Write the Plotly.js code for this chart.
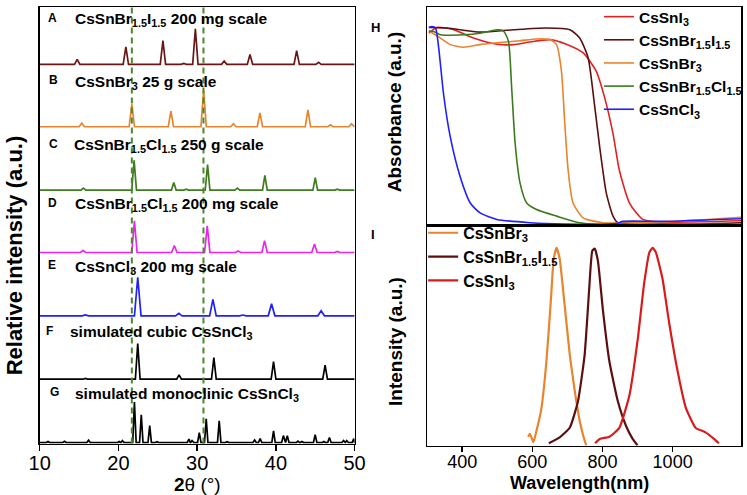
<!DOCTYPE html>
<html>
<head>
<meta charset="utf-8">
<script src="https://cdn.plot.ly/plotly-3.0.1.min.js"></script>
<style>html,body{margin:0;padding:0;background:#fff}#chart{width:747px;height:495px}</style>
</head>
<body>
<div id="chart"></div>
<script>
// ---------------- XRD data (2θ peak positions and peak heights) ----------------
const xrdLetters = ['A','B','C','D','E','F','G'];
const xrdLabels = [
  'CsSnBr<sub>1.5</sub>I<sub>1.5</sub> 200 mg scale',
  'CsSnBr<sub>3</sub> 25 g scale',
  'CsSnBr<sub>1.5</sub>Cl<sub>1.5</sub> 250 g scale',
  'CsSnBr<sub>1.5</sub>Cl<sub>1.5</sub> 200 mg scale',
  'CsSnCl<sub>3</sub> 200 mg scale',
  'simulated cubic CsSnCl<sub>3</sub>',
  'simulated monoclinic CsSnCl<sub>3</sub>'
];
const peaksA = [14.76, 20.94, 25.65, 28.3, 29.77, 33.43, 36.71, 42.64, 45.42];
const heightsA = [5, 17.7, 24, 1, 36, 3.3, 10, 14, 2];
const peaksB = [15.34, 21.7, 26.66, 30.82, 34.6, 37.97, 44.07, 46.93, 49.6];
const heightsB = [3.7, 23, 15.7, 37, 3, 14, 17, 2, 3];
const peaksC = [15.55, 21.99, 27.03, 28.6, 31.32, 35.1, 38.6, 45.0, 47.8];
const heightsC = [2, 30, 7.7, 1, 25.7, 2, 15, 12.7, 1];
const peaksD = [15.5, 22.03, 27.1, 31.28, 35.2, 38.56, 44.9, 47.8];
const heightsD = [2, 32, 7, 27, 1.5, 12, 8.5, 1];
const peaksE = [15.8, 22.45, 27.67, 32.0, 35.8, 39.45, 45.75];
const heightsE = [1, 39, 2.5, 16.7, 0.8, 12.3, 5];
const peaksF = [15.8, 22.45, 27.7, 32.12, 36.0, 39.7, 46.25];
const heightsF = [0.8, 36, 4.3, 21.7, 0.5, 17.7, 14.3];
const peaksG = [11.05, 13.15, 16.2, 20.1, 20.5, 22.03, 22.9, 23.97, 24.9, 28.95, 29.35, 30.27, 31.15, 32.8, 33.8, 37.3, 38.0, 39.7, 40.95, 41.45, 42.8, 43.3, 44.99, 46.1, 46.8, 48.6, 49.0, 49.9];
const heightsG = [1, 1.3, 2.3, 1, 2, 41, 28, 17, 0.8, 3.5, 2, 10, 24, 22, 0.8, 2.5, 4, 11.7, 7, 7, 1.5, 1, 8, 1, 5, 2, 2, 4];
const refLines2theta = [21.7, 30.8];

// ---------------- Absorbance (H) ----------------
const absNames = ['CsSnI<sub>3</sub>', 'CsSnBr<sub>1.5</sub>I<sub>1.5</sub>', 'CsSnBr<sub>3</sub>', 'CsSnBr<sub>1.5</sub>Cl<sub>1.5</sub>', 'CsSnCl<sub>3</sub>'];
const absWl_I3 = [305, 328, 376, 432, 499, 546, 593, 650, 697, 745, 782, 806, 830, 848, 877, 915, 971, 1195];
const abs_I3   = [0.88, 0.906, 0.896, 0.858, 0.83, 0.828, 0.84, 0.851, 0.83, 0.79, 0.707, 0.587, 0.421, 0.255, 0.104, 0.029, 0.017, 0.023];
const absWl_BrI = [305, 357, 451, 546, 640, 707, 735, 759, 777, 792, 811, 830, 844, 971, 1195];
const abs_BrI   = [0.906, 0.904, 0.885, 0.896, 0.904, 0.896, 0.858, 0.768, 0.557, 0.361, 0.149, 0.044, 0.014, 0.005, 0.014];
const absWl_Br3 = [305, 338, 366, 404, 451, 499, 565, 612, 650, 669, 683, 692, 702, 716, 745, 801, 877, 971, 1195];
const abs_Br3   = [0.89, 0.858, 0.828, 0.816, 0.828, 0.836, 0.846, 0.854, 0.851, 0.828, 0.707, 0.481, 0.255, 0.104, 0.036, 0.014, 0.014, 0.017, 0.039];
const absWl_BrCl = [305, 319, 338, 404, 451, 499, 518, 532, 541, 551, 565, 584, 612, 669, 735, 830, 971, 1195];
const abs_BrCl   = [0.89, 0.888, 0.873, 0.873, 0.88, 0.896, 0.89, 0.843, 0.632, 0.376, 0.195, 0.104, 0.074, 0.044, 0.014, 0.005, 0.009, 0.005];
const absWl_Cl3 = [305, 314, 324, 333, 347, 366, 394, 423, 451, 499, 593, 688, 839, 858, 971, 1195];
const abs_Cl3   = [0.906, 0.911, 0.904, 0.813, 0.60, 0.406, 0.225, 0.104, 0.059, 0.029, 0.014, 0.008, 0.010, 0.020, 0.020, 0.032];

// ---------------- PL (I) ----------------
const plNames = ['CsSnBr<sub>3</sub>', 'CsSnBr<sub>1.5</sub>I<sub>1.5</sub>', 'CsSnI<sub>3</sub>'];
const plWl_Br3 = [588, 593, 603, 612, 626, 640, 652, 661, 669, 678, 692, 707, 721, 735, 749, 754];
const pl_Br3   = [0.04, 0.053, 0.015, 0.068, 0.17, 0.38, 0.64, 0.85, 0.90, 0.85, 0.64, 0.41, 0.248, 0.113, 0.023, 0.0];
const plWl_BrI = [647, 678, 707, 730, 749, 762, 771, 778, 787, 801, 820, 844, 867, 886, 900];
const pl_BrI   = [0.01, 0.037, 0.082, 0.2, 0.41, 0.71, 0.886, 0.896, 0.84, 0.62, 0.38, 0.2, 0.09, 0.03, 0.0];
const plWl_I3 = [779, 792, 820, 848, 877, 901, 919, 934, 943, 952, 971, 990, 1014, 1038, 1066, 1094, 1118, 1132];
const pl_I3   = [0.01, 0.03, 0.04, 0.08, 0.23, 0.49, 0.74, 0.88, 0.90, 0.88, 0.76, 0.56, 0.34, 0.17, 0.08, 0.06, 0.03, 0.01];

// ---------------- build figure ----------------
const W = 747, H = 495, T = 2;
const px = v => v / W;
const py = v => 1 - (v - T) / (H - T);
const FONT = 'Liberation Sans, Arial, Helvetica, sans-serif';

const xrdPeaks = [peaksA, peaksB, peaksC, peaksD, peaksE, peaksF, peaksG];
const xrdHeights = [heightsA, heightsB, heightsC, heightsD, heightsE, heightsF, heightsG];
const xrdColors = ['#6b1616', '#e8842c', '#3d7d1d', '#ee22ee', '#2020ff', '#000000', '#000000'];
const xrdOffsets = [383, 320, 256, 193, 129, 65, 1];
const xrdHalfWidth = [0.34, 0.34, 0.3, 0.34, 0.42, 0.3, 0.22];

function xrdCurve(peaks, heights, hw) {
  const pts = [[10, 0], [50, 0]];
  peaks.forEach((p, i) => { pts.push([p - hw, 0], [p, heights[i]], [p + hw, 0]); });
  pts.sort((a, b) => a[0] - b[0]);
  return pts;
}

const traces = [];
xrdPeaks.forEach((pk, k) => {
  const pts = xrdCurve(pk, xrdHeights[k], xrdHalfWidth[k]);
  traces.push({
    x: pts.map(p => p[0]), y: pts.map(p => p[1] + xrdOffsets[k]),
    type: 'scatter', mode: 'lines', xaxis: 'x', yaxis: 'y',
    line: {color: xrdColors[k], width: 1.7}, showlegend: false, hoverinfo: 'skip'
  });
});

const absX = [absWl_I3, absWl_BrI, absWl_Br3, absWl_BrCl, absWl_Cl3];
const absY = [abs_I3, abs_BrI, abs_Br3, abs_BrCl, abs_Cl3];
const absColors = ['#e02222', '#5c0f0f', '#e8842c', '#3b7a1c', '#1f1fff'];
absX.forEach((xs, k) => {
  traces.push({
    x: xs, y: absY[k], name: absNames[k], type: 'scatter', mode: 'lines',
    xaxis: 'x2', yaxis: 'y2', legend: 'legend',
    line: {color: absColors[k], width: 1.6, shape: 'spline', smoothing: 0.6}
  });
});

const plX = [plWl_Br3, plWl_BrI, plWl_I3];
const plY = [pl_Br3, pl_BrI, pl_I3];
const plColors = ['#e8842c', '#5c0f0f', '#d81c1c'];
plX.forEach((xs, k) => {
  traces.push({
    x: xs, y: plY[k], name: plNames[k], type: 'scatter', mode: 'lines',
    xaxis: 'x3', yaxis: 'y3', legend: 'legend2',
    line: {color: plColors[k], width: 2.2, shape: 'spline', smoothing: 0.45}
  });
});

const frame = {showline: true, mirror: true, linecolor: 'black', linewidth: 1.5, showgrid: false, zeroline: false};

const annotations = [];
const letterY = [13, 76, 140, 200, 263, 329, 391];
const letterX = [53, 54, 54, 53, 52, 50, 55];
const labelX = [73, 73, 72, 73, 73, 68, 73];
xrdLetters.forEach((L, k) => {
  annotations.push({xref: 'paper', yref: 'paper', x: px(letterX[k]), y: py(letterY[k]), text: '<b>' + L + '</b>',
    showarrow: false, xanchor: 'center', yanchor: 'middle', font: {size: 12, family: FONT}});
  annotations.push({xref: 'paper', yref: 'paper', x: px(labelX[k]), y: py(letterY[k] + 2), text: '<b>' + xrdLabels[k] + '</b>',
    showarrow: false, xanchor: 'left', yanchor: 'middle', font: {size: 15.5, family: FONT}});
});
annotations.push({xref: 'paper', yref: 'paper', x: px(378), y: py(13), text: '<b>H</b>', showarrow: false, font: {size: 13, family: FONT}});
annotations.push({xref: 'paper', yref: 'paper', x: px(376), y: py(232), text: '<b>I</b>', showarrow: false, font: {size: 13, family: FONT}});
annotations.push({xref: 'paper', yref: 'paper', x: px(15), y: py(253), text: '<b>Relative intensity (a.u.)</b>', textangle: -90,
  showarrow: false, xanchor: 'center', yanchor: 'middle', font: {size: 22, family: FONT}});
annotations.push({xref: 'paper', yref: 'paper', x: px(398), y: py(108), text: '<b>Absorbance (a.u.)</b>', textangle: -90,
  showarrow: false, xanchor: 'center', yanchor: 'middle', font: {size: 19, family: FONT}});
annotations.push({xref: 'paper', yref: 'paper', x: px(398), y: py(340), text: '<b>Intensity (a.u.)</b>', textangle: -90,
  showarrow: false, xanchor: 'center', yanchor: 'middle', font: {size: 19, family: FONT}});
annotations.push({xref: 'paper', yref: 'paper', x: px(199), y: py(484), text: '<b>2</b>θ (°)',
  showarrow: false, xanchor: 'center', yanchor: 'middle', font: {size: 19, family: FONT}});
annotations.push({xref: 'paper', yref: 'paper', x: px(583), y: py(483), text: '<b>Wavelength(nm)</b>',
  showarrow: false, xanchor: 'center', yanchor: 'middle', font: {size: 18, family: FONT}});

const shapes = refLines2theta.map(v => ({
  type: 'line', xref: 'x', yref: 'y domain', x0: v, x1: v, y0: 0, y1: 1,
  line: {color: '#4a8a2a', width: 2, dash: '6px,4px'}
}));

const layout = {
  width: W, height: H, margin: {l: 0, r: 0, t: T, b: 0},
  paper_bgcolor: 'white', plot_bgcolor: 'white',
  font: {family: FONT, color: 'black'},
  xaxis: Object.assign({}, frame, {domain: [px(40), px(357)], range: [10, 50], anchor: 'y',
    tickvals: [10, 20, 30, 40, 50], ticks: 'outside', ticklen: 6, tickwidth: 1.5, tickcolor: 'black',
    ticklabelstandoff: -5, tickfont: {size: 20, family: FONT}}),
  yaxis: Object.assign({}, frame, {domain: [py(443), py(2)], range: [0, 441], anchor: 'x',
    showticklabels: false, ticks: ''}),
  xaxis2: Object.assign({}, frame, {domain: [px(430), px(746)], range: [300, 1195], anchor: 'y2',
    showticklabels: false, ticks: ''}),
  yaxis2: Object.assign({}, frame, {domain: [py(223), py(2)], range: [0, 1], anchor: 'x2',
    showticklabels: false, ticks: ''}),
  xaxis3: Object.assign({}, frame, {domain: [px(430), px(746)], range: [300, 1195], anchor: 'y3',
    tickvals: [400, 600, 800, 1000], ticks: 'outside', ticklen: 5, tickwidth: 1.5, tickcolor: 'black',
    ticklabelstandoff: -6, tickfont: {size: 18, family: FONT}}),
  yaxis3: Object.assign({}, frame, {domain: [py(445), py(223)], range: [0, 1], anchor: 'x3',
    showticklabels: false, ticks: ''}),
  legend: {x: px(603), xanchor: 'left', y: py(-5), yanchor: 'top', bgcolor: 'rgba(0,0,0,0)',
    font: {size: 15.5, family: FONT, weight: 'bold'}, itemwidth: 30, tracegroupgap: 0},
  legend2: {x: px(426), xanchor: 'left', y: py(213), yanchor: 'top', bgcolor: 'rgba(0,0,0,0)',
    font: {size: 16, family: FONT, weight: 'bold'}, itemwidth: 30, tracegroupgap: 0},
  annotations: annotations,
  shapes: shapes
};

Plotly.newPlot('chart', traces, layout, {staticPlot: true, displayModeBar: false});
</script>
</body>
</html>
